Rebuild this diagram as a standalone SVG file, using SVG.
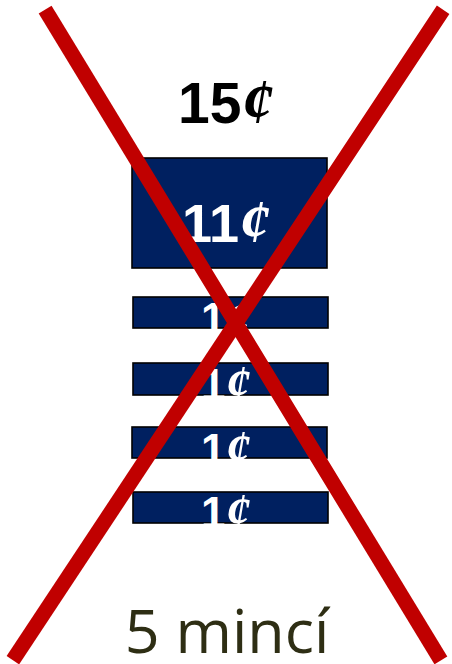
<svg xmlns="http://www.w3.org/2000/svg" width="452" height="664" viewBox="0 0 452 664">
<style>
.box{fill:#002060;stroke:#000;stroke-width:1.6}
.num{font-family:"Liberation Sans",Arial,sans-serif;font-weight:bold}
.cent{font-family:"Liberation Serif","Times New Roman",serif;font-weight:bold;font-style:italic}
.w{fill:#fff}
.x{stroke:#C00000;stroke-width:15;stroke-linecap:square;fill:none}
.cap{font-family:"Open Sans","Noto Sans",sans-serif;fill:#2E2E14}
</style>
<rect width="452" height="664" fill="#fff"/>
<g id="total">
<text class="num" x="178" y="123" font-size="57" fill="#000">15<tspan class="cent" font-size="64">¢</tspan></text>
</g>
<g id="coin11">
<rect class="box" x="132" y="158" width="195" height="110"/>
<text class="num w" x="182" y="242" font-size="54">11<tspan class="cent" font-size="62">¢</tspan></text>
</g>
<g id="coin1a">
<rect class="box" x="133" y="297" width="195" height="31"/>
<text class="num w" x="201" y="334" font-size="44">1<tspan class="cent" font-size="50">¢</tspan></text>
</g>
<g id="coin1b">
<rect class="box" x="133" y="363" width="195" height="32"/>
<text class="num w" x="201" y="400" font-size="44">1<tspan class="cent" font-size="50">¢</tspan></text>
</g>
<g id="coin1c">
<rect class="box" x="132" y="427" width="195" height="31"/>
<text class="num w" x="201" y="465" font-size="44">1<tspan class="cent" font-size="50">¢</tspan></text>
</g>
<g id="coin1d">
<rect class="box" x="133" y="492" width="195" height="31"/>
<text class="num w" x="201" y="528" font-size="44">1<tspan class="cent" font-size="50">¢</tspan></text>
</g>
<g id="caption">
<text class="cap" x="227" y="653" font-size="61" text-anchor="middle">5 mincí</text>
</g>
<g id="connectors">
<line class="x" x1="49" y1="16" x2="437" y2="654"/>
<line class="x" x1="439" y1="16" x2="17" y2="654"/>
</g>
</svg>
